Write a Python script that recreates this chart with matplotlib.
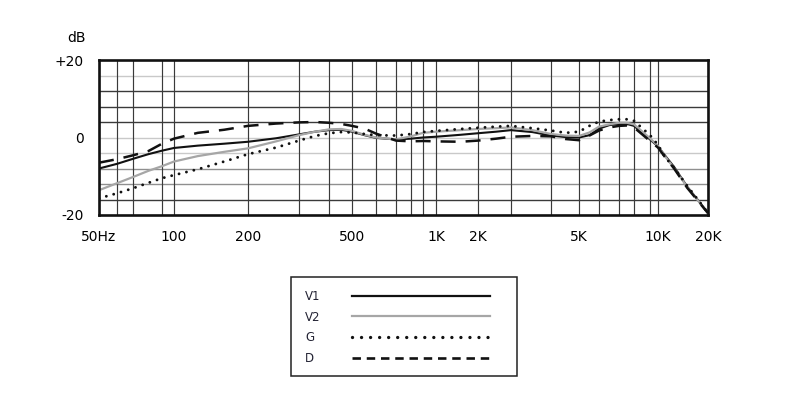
import numpy as np
import matplotlib
matplotlib.use("Agg")
import matplotlib.pyplot as plt
from matplotlib.lines import Line2D
from matplotlib.patches import Rectangle

# ---------------- data ----------------
freqs = [50, 60, 70, 80, 90, 100, 125, 160, 200, 250, 300, 350, 400, 450, 500, 550,
         600, 700, 800, 900, 1000, 1500, 2000, 2500, 3000, 3500, 4000, 4500, 5000,
         5500, 6000, 6500, 7000, 7500, 8000, 9000, 10000, 11000, 12500, 15000,
         17500, 20000]

v1 = [-8.0, -6.8, -5.5, -4.3, -3.4, -2.7, -2.1, -1.6, -1.1, -0.2, 0.8, 1.5, 1.9, 2.0,
      1.5, 0.6, -0.1, -0.5, -0.3, 0.0, 0.2, 0.7, 1.1, 1.5, 1.9, 1.4, 0.5, 0.1, 0.0,
      0.6, 2.3, 3.2, 3.5, 3.5, 3.0, -0.5, -2.3, -4.6, -7.6, -12.7, -16.3, -19.5]

v2 = [-13.6, -11.8, -10.2, -8.6, -7.4, -6.2, -4.8, -3.7, -2.8, -1.0, 0.6, 1.5, 2.1,
      2.2, 1.7, 0.7, 0.0, -0.5, 0.3, 1.2, 1.5, 1.9, 2.2, 2.4, 2.6, 1.9, 0.9, 0.5, 0.4,
      1.3, 2.8, 3.4, 3.8, 3.8, 3.4, -0.2, -2.2, -4.8, -7.9, -12.8, -16.4, -19.6]

g = [-15.7, -14.4, -13.1, -11.7, -10.5, -9.7, -8.2, -6.2, -4.3, -2.6, -0.8, 0.4, 1.1,
     1.4, 1.3, 0.9, 0.6, 0.5, 0.9, 1.4, 1.7, 2.2, 2.5, 2.8, 3.0, 2.4, 1.8, 1.2, 1.5,
     3.0, 4.1, 4.5, 4.7, 4.7, 4.3, 0.6, -1.9, -5.0, -7.8, -12.5, -16.2, -19.5]

d = [-6.5, -5.6, -4.6, -3.5, -1.6, -0.3, 1.2, 2.0, 3.0, 3.6, 3.9, 4.0, 3.8, 3.5, 3.0,
     2.3, 1.0, -0.8, -1.0, -0.9, -1.0, -1.1, -0.8, -0.3, 0.2, 0.4, 0.3, -0.4, -0.7,
     0.5, 1.8, 2.6, 3.0, 3.1, 2.6, -0.9, -2.6, -5.0, -8.0, -13.0, -16.5, -19.5]

series_labels = ["V1", "V2", "G", "D"]

x_tick_freqs = [50, 100, 200, 500, 1000, 2000, 5000, 10000, 20000]
x_tick_labels = ["50Hz", "100", "200", "500", "1K", "2K", "5K", "10K", "20K"]
x_minor_freqs = [60, 70, 90, 300, 400, 600, 700, 800, 900, 3000, 4000,
                 6000, 7000, 8000, 9000]
y_ticks = [-20, 0, 20]
y_tick_labels = ["-20", "0", "+20"]
y_grid_levels = [-16, -12, -8, -4, 0, 4, 8, 12, 16]

# ---------------- frequency axis warp (chart's hand-drawn grid) ----------------
warp_freqs = [50, 60, 70, 90, 100, 200, 300, 400, 500, 600, 700, 800, 900, 1000,
              2000, 3000, 4000, 5000, 6000, 7000, 8000, 9000, 10000, 20000]
warp_pos = [0, 18, 34, 63, 75, 149, 200, 230, 253, 277, 297, 312, 324, 337,
            379, 412, 452, 480, 500, 520, 535, 551, 559, 609]
_lf = np.log10(warp_freqs)
_wp = np.array(warp_pos, dtype=float) / warp_pos[-1]


def fwd(f):
    f = np.asarray(f, dtype=float)
    return np.interp(np.log10(np.clip(f, 1e-6, None)), _lf, _wp)


def inv(p):
    return 10 ** np.interp(np.asarray(p, dtype=float), _wp, _lf)


# ---------------- figure ----------------
plt.rcParams["font.family"] = ["DejaVu Sans"]
fig = plt.figure(figsize=(8.0, 3.97), dpi=100)
ax = fig.add_axes([99 / 800, (397 - 215) / 397, 609 / 800, 155 / 397])
ax.set_xscale("function", functions=(fwd, inv))
ax.set_xlim(50, 20000)
ax.set_ylim(-20, 20)

# grid
ax.set_xticks(x_tick_freqs)
ax.set_xticklabels(x_tick_labels)
ax.set_xticks(x_minor_freqs, minor=True)
ax.set_xticklabels([], minor=True)
ax.grid(True, axis="x", which="both", color="#3a3a3a", lw=0.85, zorder=0)
for lvl in y_grid_levels:
    if lvl in (16, 0, -4):
        c = "#c9c9c9"
    elif lvl in (-8, -12):
        c = "#8f8f8f"
    else:
        c = "#3a3a3a"
    ax.axhline(lvl, color=c, lw=1.0, zorder=0)

ax.set_yticks(y_ticks)
ax.set_yticklabels(y_tick_labels)
ax.tick_params(axis="both", which="both", length=0, labelsize=10, colors="black")
ax.tick_params(axis="x", pad=11)
ax.tick_params(axis="y", pad=11)
for lab in ax.get_xticklabels():
    lab.set_x(lab.get_position()[0])
for sp in ax.spines.values():
    sp.set_linewidth(1.9)
    sp.set_color("#111111")
    sp.set_zorder(5)

# curves
l1, = ax.plot(freqs, v1, color="#111111", lw=1.5, zorder=3)
l2, = ax.plot(freqs, v2, color="#a6a6a6", lw=1.6, zorder=3)
l3, = ax.plot(freqs, g, color="#111111", lw=2.1, linestyle=(0, (0.01, 2.6)),
              dash_capstyle="round", zorder=4)
l4, = ax.plot(freqs, d, color="#111111", lw=1.8, linestyle=(0, (6, 4)), zorder=4)

fig.text(77 / 800, (397 - 38) / 397, "dB", ha="center", va="center", fontsize=10)

# legend: labels column (left-aligned) + samples column (aligned), boxed
handles = [
    Line2D([], [], color="#111111", lw=1.6),
    Line2D([], [], color="#a6a6a6", lw=1.6),
    Line2D([], [], color="#111111", lw=2.4, linestyle=(0, (0.01, 2.7)),
           dash_capstyle="round"),
    Line2D([], [], color="#111111", lw=1.9, linestyle=(0, (3.2, 2.2))),
]
blank = [Line2D([], [], color="none", lw=0) for _ in handles]
common = dict(loc="upper left", bbox_transform=fig.transFigure, frameon=False,
              borderpad=0, borderaxespad=0, labelspacing=0.64, fontsize=8.5)
leg_text = fig.legend(blank, series_labels,
                      bbox_to_anchor=(305 / 800, (397 - 290) / 397),
                      handlelength=0, handletextpad=0, labelcolor="#222233",
                      **common)
leg_lines = fig.legend(handles, ["", "", "", ""],
                       bbox_to_anchor=(352 / 800, (397 - 290) / 397),
                       handlelength=11.7, handletextpad=0, **common)
fig.add_artist(Rectangle((291 / 800, (397 - 376) / 397), 226 / 800, 99 / 397,
                         transform=fig.transFigure, fill=False,
                         ec="#222222", lw=1.1))

fig.savefig("out.png", dpi=100)
